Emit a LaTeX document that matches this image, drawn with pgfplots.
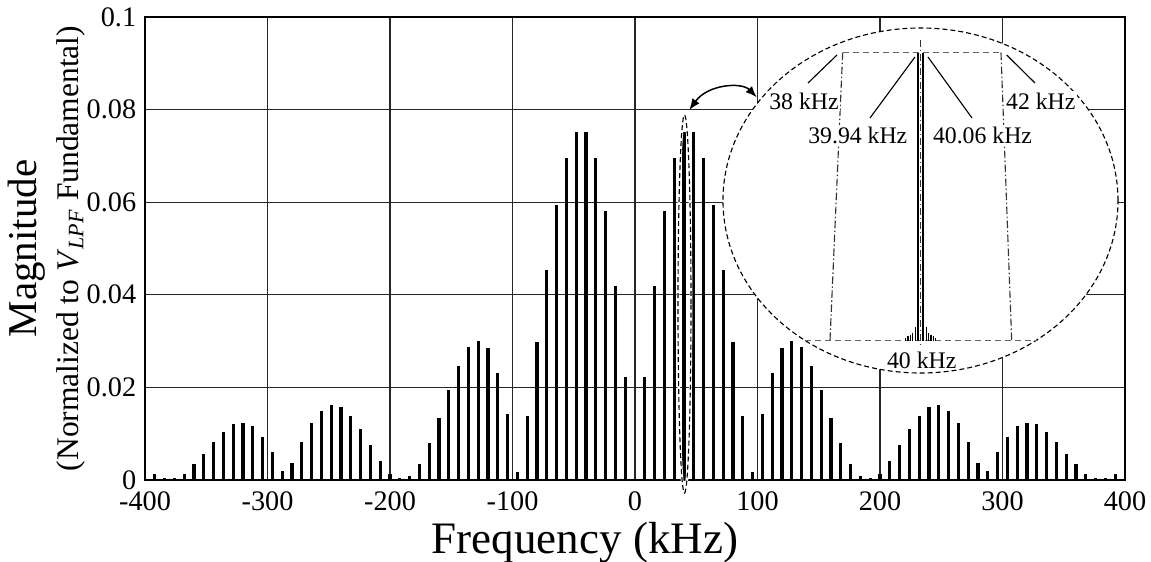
\documentclass[border=0pt]{standalone}
\usepackage{fontspec}
\setmainfont{Liberation Serif}
\usepackage{pgfplots}
\pgfplotsset{compat=1.18}
\usepackage{pgfplotstable}
\usetikzlibrary{arrows.meta}

\pgfplotstableread{
f v
-392 0.0012
-384 0.0005
-376 0.0005
-368 0.0014
-360 0.0034
-352 0.0056
-344 0.0082
-336 0.0103
-328 0.0120
-320 0.0123
-312 0.0117
-304 0.0093
-296 0.0060
-288 0.0019
-280 0.0037
-272 0.0082
-264 0.0123
-256 0.0148
-248 0.0161
-240 0.0158
-232 0.0138
-224 0.0111
-216 0.0075
-208 0.0040
-200 0.0014
-192 0.0004
-184 0.0009
-176 0.0034
-168 0.0079
-160 0.0133
-152 0.0194
-144 0.0247
-136 0.0288
-128 0.0301
-120 0.0285
-112 0.0232
-104 0.0142
-96 0.0018
-88 0.0138
-80 0.0297
-72 0.0454
-64 0.0593
-56 0.0695
-48 0.0752
-40 0.0752
-32 0.0695
-24 0.0582
-16 0.0419
-8 0.0222
8 0.0222
16 0.0419
24 0.0582
32 0.0695
40 0.0752
48 0.0752
56 0.0695
64 0.0593
72 0.0454
80 0.0297
88 0.0138
96 0.0018
104 0.0142
112 0.0232
120 0.0285
128 0.0301
136 0.0288
144 0.0247
152 0.0194
160 0.0133
168 0.0079
176 0.0034
184 0.0009
192 0.0004
200 0.0014
208 0.0040
216 0.0075
224 0.0111
232 0.0138
240 0.0158
248 0.0161
256 0.0148
264 0.0123
272 0.0082
280 0.0037
288 0.0019
296 0.0060
304 0.0093
312 0.0117
320 0.0123
328 0.0120
336 0.0103
344 0.0082
352 0.0056
360 0.0034
368 0.0014
376 0.0005
384 0.0005
392 0.0012
}\spec

\pgfplotstableread{
f v
39.62 0.008
39.68 0.016
39.74 0.020
39.80 0.025
39.86 0.046
40.14 0.046
40.20 0.025
40.26 0.020
40.32 0.016
40.38 0.008
}\side

\begin{document}
\begin{tikzpicture}[font=\fontsize{11}{13}\selectfont]
\path[use as bounding box] (-58pt,-32.8pt) rectangle (402.4pt,192pt);
\begin{axis}[
  at={(0,0)}, anchor=south west,
  scale only axis, width=392pt, height=185.2pt,
  xmin=-400, xmax=400, ymin=0, ymax=0.1,
  xtick={-400,-300,...,400},
  xticklabels={-400,-300,-200,-100,0,100,200,300,400},
  ytick={0,0.02,0.04,0.06,0.08,0.1},
  yticklabels={0,0.02,0.04,0.06,0.08,0.1},
  grid=major,
  major grid style={black!85, line width=0.55pt},
  major tick length=0pt,
  axis line style={black, line width=0.9pt},
  tick label style={font=\fontsize{11.3}{13}\selectfont},
  xticklabel style={yshift=-1.2pt},
  xlabel={Frequency (kHz)},
  ylabel={{\fontsize{16.4}{16}\selectfont Magnitude}\\[3.8pt]{\fontsize{12.6}{14}\selectfont (Normalized to \textit{V}\textsubscript{\textit{LPF}} Fundamental)}},
  xlabel style={font=\fontsize{18}{18}\selectfont, at={(axis description cs:0.449,0)}, anchor=center, yshift=-25.2pt},
  ylabel style={align=center, at={(axis description cs:-0.1,0.5)}, anchor=center},
]
\addplot[ycomb, black, line width=1.25pt, mark=none] table[x=f,y=v]{\spec};
\end{axis}

\begin{scope}[x=0.4pt, y=-0.4pt, shift={(-58pt,192pt)}]
  % big inset ellipse
  \draw[black, dash pattern=on 2pt off 1.2pt, line width=0.45pt, fill=white]
    (920.5,200.5) ellipse [x radius=79pt, y radius=69pt];
  % trapezoid
  \draw[black!60, dash pattern=on 2.5pt off 1.5pt, line width=0.45pt]
    (805,340.7) -- (1038,340.7)
    (842.7,52.7) -- (1001,52.7);
  \draw[black!80, dash pattern=on 3pt off 1pt on 0.6pt off 1pt, line width=0.45pt]
    (842.7,52.7) -- (830,340.7)
    (1001,52.7) -- (1011.7,340.7);
  % center line
  \draw[black!80, dash pattern=on 3pt off 1pt on 0.6pt off 1pt, line width=0.45pt]
    (920.7,40) -- (920.7,345);
  % pointer lines
  \draw[black, line width=0.45pt] (808,83) -- (837,55)
    (870,118) -- (915,57)
    (972,118) -- (928,57)
    (1035,83) -- (1006.7,55);
  % labels
  \begin{scope}[font=\fontsize{9.5}{11}\selectfont]
    \node[fill=white, inner sep=0.6pt] at (804,101) {38 kHz};
    \node[fill=white, inner sep=0.6pt] at (857.8,135) {39.94 kHz};
    \node[fill=white, inner sep=0.6pt] at (982.5,135) {40.06 kHz};
    \node[fill=white, inner sep=0.6pt] at (1040.8,101) {42 kHz};
    \node[inner sep=0.6pt] at (921.7,360) {40 kHz};
  \end{scope}
  % curved arrow
  \draw[{Latex[length=4.5pt,width=3.5pt]}-{Latex[length=4.5pt,width=3.5pt]}, line width=0.6pt]
    (756.7,97.3) .. controls (742,82) and (708,84) .. (689.3,110);
  % small ellipse around the 40 kHz bar
  \draw[white, line width=1.1pt] (684.5,304) ellipse [x radius=2.6pt, y radius=75.6pt];
  \draw[black, dash pattern=on 2pt off 1.2pt, line width=0.45pt] (684.5,304) ellipse [x radius=2.6pt, y radius=75.6pt];
\end{scope}

\begin{axis}[
  at={(278.68pt,55.72pt)}, anchor=south west,
  scale only axis, width=63.2pt, height=115.2pt,
  xmin=38, xmax=42, ymin=0, ymax=1,
  axis lines=none, clip=false,
]
\addplot[ycomb, black, line width=0.8pt, mark=none] coordinates {(39.94,1) (40.06,1)};
\addplot[ycomb, black, line width=0.5pt, mark=none] table[x=f,y=v]{\side};
\end{axis}
\end{tikzpicture}
\end{document}
